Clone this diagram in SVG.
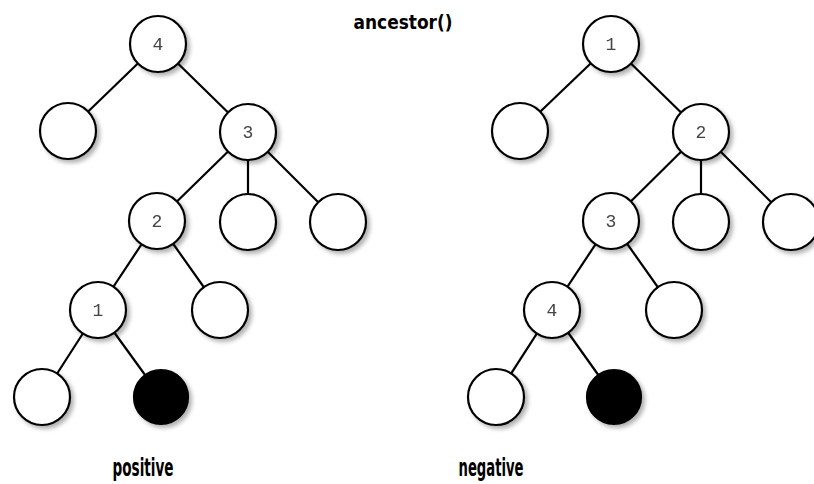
<svg xmlns="http://www.w3.org/2000/svg" width="814" height="484" viewBox="0 0 814 484">
<style>
.n{fill:#fff;stroke:#000;stroke-width:2.2}
.b{fill:#000;stroke:#000;stroke-width:2.2}
.e line{stroke:#000;stroke-width:2.2}
.lbl{font-family:"Liberation Mono","DejaVu Sans Mono",monospace;font-size:18px;fill:#444;text-anchor:middle}
.t{font-family:"DejaVu Sans Condensed","Liberation Sans Narrow","Liberation Sans",sans-serif;font-weight:bold;fill:#000;text-anchor:middle}
</style>
<defs>
<filter id="sh" x="-30%" y="-30%" width="170%" height="170%">
<feDropShadow dx="3" dy="3" stdDeviation="2" flood-color="#000" flood-opacity="0.3"/>
</filter>
</defs>
<rect width="814" height="484" fill="#fff"/>
<text class="t" x="403" y="29" font-size="20" textLength="99" lengthAdjust="spacingAndGlyphs">ancestor()</text>
<text class="t" x="143" y="476" font-size="24" textLength="61" lengthAdjust="spacingAndGlyphs">positive</text>
<text class="t" x="491" y="476" font-size="24" textLength="65" lengthAdjust="spacingAndGlyphs">negative</text>
<g id="connectors" class="e">
<line x1="158" y1="44" x2="68" y2="131"/>
<line x1="158" y1="44" x2="248" y2="132"/>
<line x1="248" y1="132" x2="157" y2="221"/>
<line x1="248" y1="132" x2="248" y2="222"/>
<line x1="248" y1="132" x2="338" y2="222"/>
<line x1="157" y1="221" x2="98" y2="310"/>
<line x1="157" y1="221" x2="220" y2="310"/>
<line x1="98" y1="310" x2="42" y2="397"/>
<line x1="98" y1="310" x2="161" y2="397"/>
<line x1="611" y1="44" x2="520" y2="131"/>
<line x1="611" y1="44" x2="701" y2="132"/>
<line x1="701" y1="132" x2="611" y2="221"/>
<line x1="701" y1="132" x2="701" y2="222"/>
<line x1="701" y1="132" x2="791" y2="222"/>
<line x1="611" y1="221" x2="552" y2="310"/>
<line x1="611" y1="221" x2="674" y2="310"/>
<line x1="552" y1="310" x2="496" y2="397"/>
<line x1="552" y1="310" x2="614" y2="397"/>
</g>
<g filter="url(#sh)">
<g id="L4"><circle class="n" cx="158" cy="44" r="28"/><text class="lbl" x="158" y="50">4</text></g>
<g id="La"><circle class="n" cx="68" cy="131" r="28"/></g>
<g id="L3"><circle class="n" cx="248" cy="132" r="28"/><text class="lbl" x="248" y="138">3</text></g>
<g id="L2"><circle class="n" cx="157" cy="221" r="28"/><text class="lbl" x="157" y="227">2</text></g>
<g id="Lb"><circle class="n" cx="248" cy="222" r="28"/></g>
<g id="Lc"><circle class="n" cx="338" cy="222" r="28"/></g>
<g id="L1"><circle class="n" cx="98" cy="310" r="28"/><text class="lbl" x="98" y="316">1</text></g>
<g id="Ld"><circle class="n" cx="220" cy="310" r="28"/></g>
<g id="Le"><circle class="n" cx="42" cy="397" r="28"/></g>
<g id="Lf"><circle class="b" cx="161" cy="397" r="27"/></g>
<g id="R1"><circle class="n" cx="611" cy="44" r="28"/><text class="lbl" x="611" y="50">1</text></g>
<g id="Ra"><circle class="n" cx="520" cy="131" r="28"/></g>
<g id="R2"><circle class="n" cx="701" cy="132" r="28"/><text class="lbl" x="701" y="138">2</text></g>
<g id="R3"><circle class="n" cx="611" cy="221" r="28"/><text class="lbl" x="611" y="227">3</text></g>
<g id="Rb"><circle class="n" cx="701" cy="222" r="28"/></g>
<g id="Rc"><circle class="n" cx="791" cy="222" r="28"/></g>
<g id="R4"><circle class="n" cx="552" cy="310" r="28"/><text class="lbl" x="552" y="316">4</text></g>
<g id="Rd"><circle class="n" cx="674" cy="310" r="28"/></g>
<g id="Re"><circle class="n" cx="496" cy="397" r="28"/></g>
<g id="Rf"><circle class="b" cx="614" cy="397" r="27"/></g>
</g>
</svg>
